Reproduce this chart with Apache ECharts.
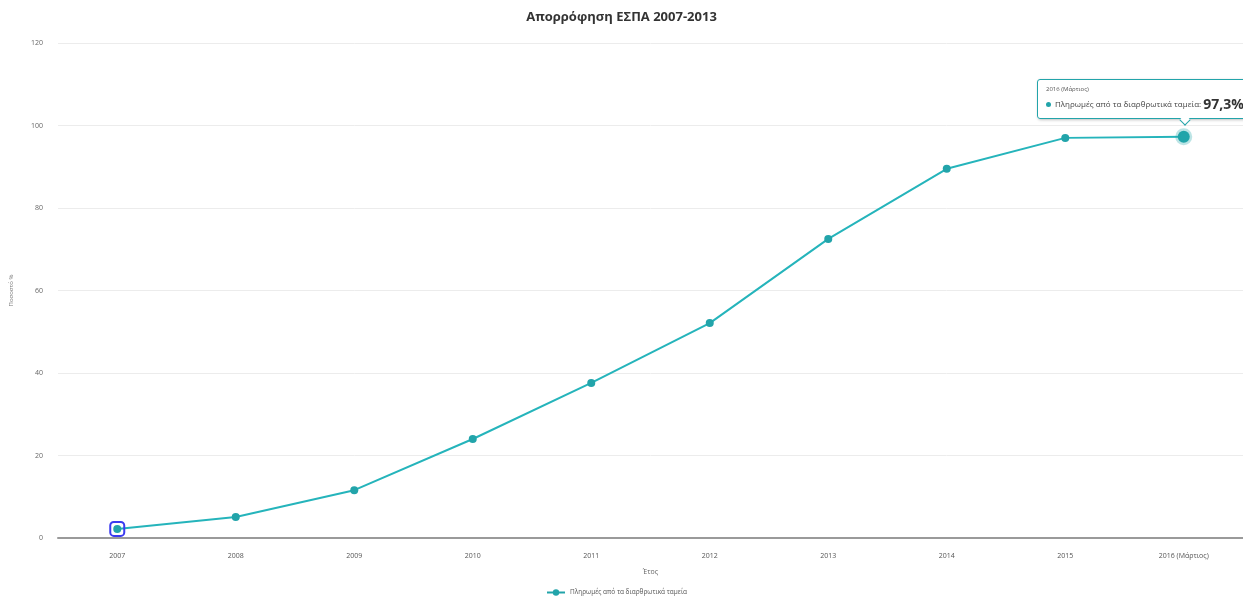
<!DOCTYPE html>
<html><head><meta charset="utf-8">
<script src="https://cdn.jsdelivr.net/npm/echarts@6/dist/echarts.min.js"></script>
<style>html,body{margin:0;padding:0;background:#fff;overflow:hidden}#c{width:1243px;height:609px}</style>
</head><body><div id="c"></div>
<script>
const categories = ['2007','2008','2009','2010','2011','2012','2013','2014','2015','2016 (Μάρτιος)'];
const payments = [2.2, 5.1, 11.6, 24.0, 37.6, 52.1, 72.5, 89.5, 97.0, 97.3];
const yTicks = [0, 20, 40, 60, 80, 100, 120];
const seriesName = 'Πληρωμές από τα διαρθρωτικά ταμεία';
const titleText = 'Απορρόφηση ΕΣΠΑ 2007-2013';
const yName = 'Ποσοστό %';
const xName = 'Έτος';

const TEAL = '#22a4aa';
const FONT = '"Open Sans", "DejaVu Sans", sans-serif';
const chart = echarts.init(document.getElementById('c'), null, {renderer: 'canvas'});
const fmt = v => String(v).replace('.', ',');

chart.setOption({
  animation: false,
  textStyle: {fontFamily: FONT},
  title: {text: titleText, left: 'center', top: 6,
    textStyle: {fontSize: 13, fontWeight: 'bold', color: '#333', fontFamily: FONT}},
  grid: {left: 57, right: -3, top: 43, bottom: 71, containLabel: false},
  legend: {data: [seriesName], left: 541, top: 584, itemWidth: 18, itemHeight: 8, itemGap: 5,
    textStyle: {fontSize: 6.5, color: '#555', fontFamily: FONT}},
  tooltip: {
    trigger: 'item', confine: false, alwaysShowContent: true, transitionDuration: 0,
    backgroundColor: 'rgba(255,255,255,0.97)', borderColor: TEAL, borderWidth: 1, borderRadius: 3,
    padding: [6, 8, 5, 8],
    extraCssText: 'box-shadow:1px 1px 3px rgba(0,0,0,0.25);overflow:visible;',
    position: function (pt) { return [pt[0] - 147, pt[1] - 58]; },
    formatter: function (p) {
      return '<div style="position:relative;font-family:' + FONT.replace(/"/g, "'") + ';line-height:1.2">' +
        '<div style="font-size:6px;color:#555;margin-bottom:3px">' + p.name + '</div>' +
        '<div style="font-size:8px;color:#444;white-space:nowrap"><span style="display:inline-block;width:5px;height:5px;border-radius:50%;background:' + TEAL + ';margin-right:4px;vertical-align:middle"></span>' +
        p.seriesName + ': <b style="font-size:14px;color:#333;vertical-align:middle">' + fmt(p.value) + '%</b></div>' +
        '<div style="position:absolute;left:135px;bottom:-11px;width:7px;height:7px;background:#fff;border-right:1px solid ' + TEAL + ';border-bottom:1px solid ' + TEAL + ';transform:rotate(45deg)"></div>' +
        '</div>';
    }
  },
  xAxis: {
    type: 'category', data: categories, boundaryGap: true,
    name: xName, nameLocation: 'middle', nameGap: 30,
    nameTextStyle: {fontSize: 7, color: '#666', fontFamily: FONT},
    axisLine: {lineStyle: {color: '#9a9a9a', width: 2}},
    axisTick: {show: false},
    axisLabel: {fontSize: 7, color: '#555', margin: 14, fontFamily: FONT},
    splitLine: {show: false}
  },
  yAxis: {
    type: 'value', min: yTicks[0], max: yTicks[yTicks.length - 1], interval: 20,
    name: yName, nameLocation: 'middle', nameGap: 44, nameRotate: 90,
    nameTextStyle: {fontSize: 6, color: '#777', fontFamily: FONT},
    axisLine: {show: false}, axisTick: {show: false},
    axisLabel: {fontSize: 7, color: '#666', margin: 15, fontFamily: FONT},
    splitLine: {lineStyle: {color: '#ececec', width: 1}}
  },
  series: [{
    name: seriesName, type: 'line', data: payments,
    symbol: 'circle', symbolSize: 8, showSymbol: true,
    lineStyle: {color: TEAL, width: 2},
    itemStyle: {color: TEAL},
    emphasis: {scale: 1.5, itemStyle: {color: TEAL, borderColor: 'rgba(34,164,170,0.3)', borderWidth: 5}},
    markPoint: {
      symbol: 'roundRect', symbolSize: 14, silent: true,
      itemStyle: {color: 'rgba(0,0,0,0)', borderColor: '#3b3bf0', borderWidth: 2},
      label: {show: false},
      data: [{coord: [categories[0], payments[0]]}]
    }
  }]
});

const last = payments.length - 1;
chart.dispatchAction({type: 'highlight', seriesIndex: 0, dataIndex: last});
chart.dispatchAction({type: 'showTip', seriesIndex: 0, dataIndex: last});
</script>
</body></html>
